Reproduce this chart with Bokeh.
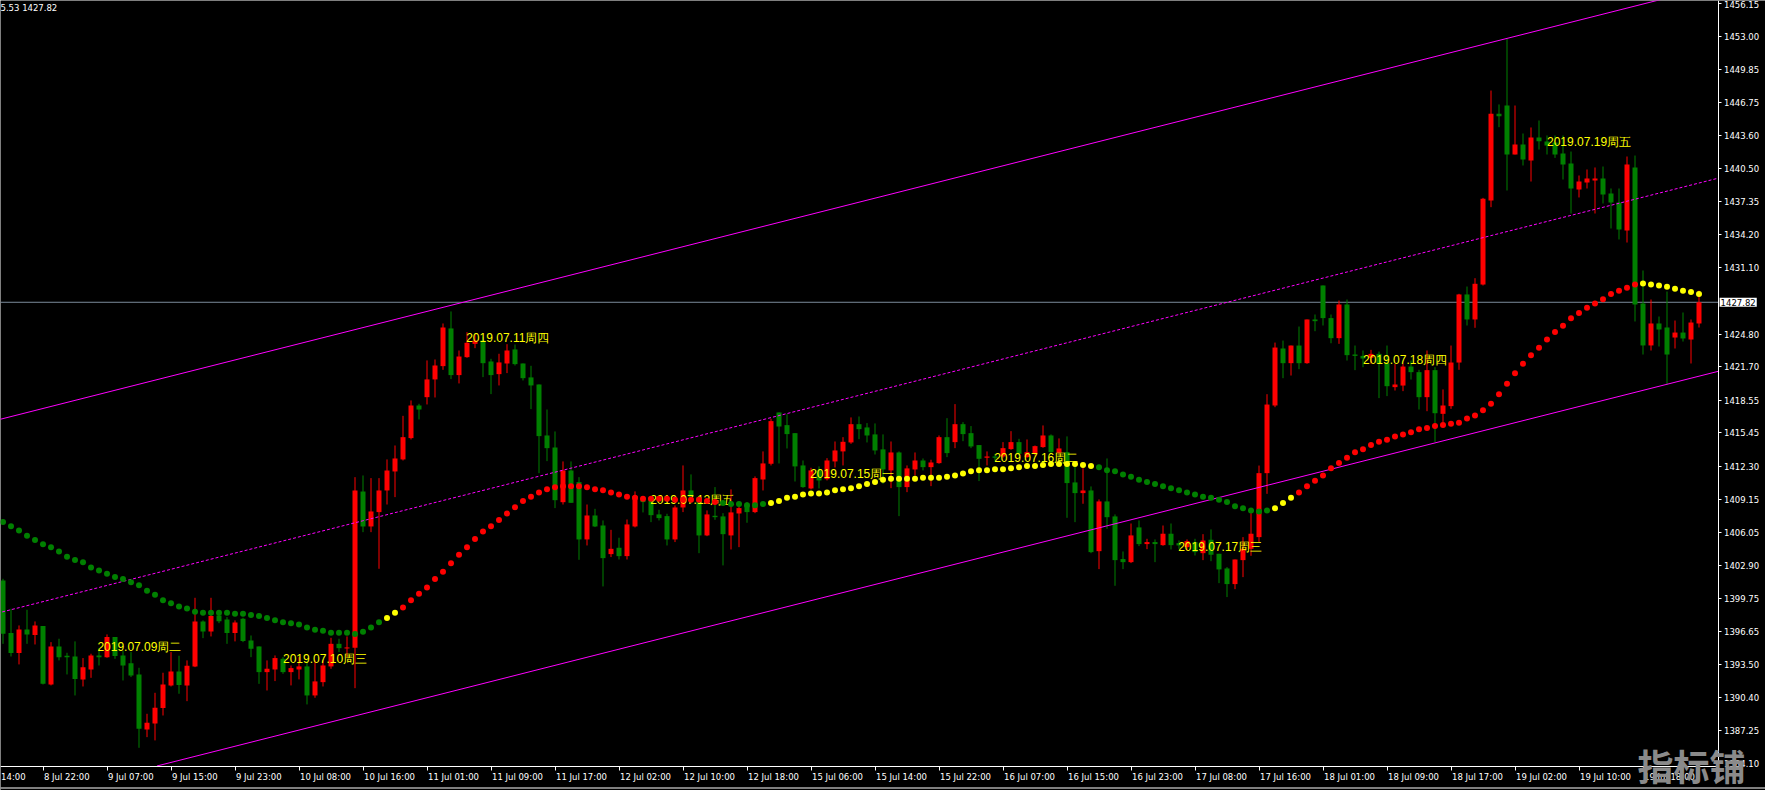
import numpy as np
from bokeh.plotting import figure
from bokeh.models import Range1d, FixedTicker, NumeralTickFormatter, Label, ColumnDataSource, Span
from bokeh.core.properties import value
from bokeh.embed import file_html
from bokeh.resources import INLINE

# ---------------- data (hourly XAUUSD bars) ----------------
opens = [1401.46, 1396.48, 1394.58, 1396.82, 1396.29, 1397.14, 1391.61, 1395.21, 1394.33, 1394.26,
         1392.09, 1393.03, 1394.36, 1394.20, 1396.10, 1394.36, 1393.63, 1392.56, 1387.35, 1387.92,
         1389.37, 1391.52, 1392.84, 1391.52, 1393.32, 1397.58, 1396.63, 1398.15, 1397.77, 1396.48,
         1397.83, 1395.78, 1395.21, 1392.78, 1393.03, 1394.04, 1392.78, 1393.03, 1393.32, 1390.57,
         1391.83, 1393.32, 1395.46, 1395.02, 1395.09, 1409.89, 1406.58, 1407.94, 1409.99, 1411.79,
         1412.93, 1414.95, 1418.04, 1418.83, 1420.51, 1421.77, 1425.34, 1420.92, 1422.62, 1423.88,
         1424.20, 1422.21, 1421.01, 1422.02, 1423.35, 1422.02, 1420.70, 1420.03, 1415.20, 1414.06,
         1408.88, 1411.88, 1410.78, 1405.35, 1407.62, 1406.67, 1403.96, 1404.56, 1403.77, 1406.58,
         1409.26, 1409.36, 1407.72, 1407.56, 1405.35, 1408.38, 1409.99, 1409.36, 1405.73, 1407.59,
         1407.53, 1405.73, 1407.81, 1408.57, 1407.94, 1411.03, 1412.52, 1417.38, 1416.18, 1415.42,
         1412.36, 1410.18, 1411.89, 1411.06, 1412.74, 1413.69, 1414.54, 1416.27, 1415.96, 1415.30,
         1413.88, 1411.89, 1413.59, 1410.31, 1411.98, 1412.83, 1412.20, 1412.58, 1415.04, 1414.57,
         1416.27, 1415.42, 1414.29, 1413.09, 1413.21, 1413.21, 1413.91, 1414.57, 1413.15, 1413.46,
         1414.10, 1415.20, 1413.56, 1413.62, 1410.75, 1409.74, 1409.99, 1404.24, 1408.95, 1407.53,
         1403.49, 1403.20, 1406.49, 1404.91, 1405.10, 1404.81, 1405.89, 1405.00, 1404.62, 1405.10,
         1404.05, 1405.32, 1403.99, 1402.60, 1401.12, 1403.39, 1404.46, 1405.57, 1411.63, 1418.04,
         1423.44, 1422.05, 1423.72, 1422.05, 1426.19, 1429.41, 1426.32, 1424.42, 1427.61, 1422.87,
         1422.74, 1422.55, 1422.93, 1422.05, 1419.78, 1419.93, 1421.73, 1421.20, 1418.83, 1421.39,
         1417.25, 1417.98, 1422.11, 1428.56, 1426.19, 1429.50, 1437.46, 1445.67, 1446.46, 1441.82,
         1442.77, 1441.25, 1443.43, 1443.05, 1442.96, 1441.91, 1440.97, 1438.50, 1439.17, 1439.36,
         1439.55, 1438.12, 1437.27, 1434.62, 1440.59, 1427.70, 1423.73, 1425.81, 1425.43, 1424.48,
         1424.95, 1424.29, 1425.81]
highs = [1401.62, 1398.78, 1397.20, 1398.69, 1397.58, 1397.14, 1395.62, 1395.94, 1394.61, 1395.69,
         1394.11, 1394.52, 1395.05, 1396.35, 1396.10, 1394.83, 1394.68, 1393.19, 1388.83, 1390.82,
         1392.72, 1394.68, 1394.33, 1393.89, 1399.82, 1397.68, 1399.82, 1398.46, 1397.99, 1397.68,
         1397.93, 1396.25, 1395.21, 1393.89, 1394.36, 1394.20, 1393.41, 1394.20, 1393.89, 1393.89,
         1393.89, 1396.03, 1395.94, 1396.16, 1411.25, 1411.41, 1411.16, 1411.16, 1412.93, 1414.25,
         1417.06, 1418.52, 1418.20, 1422.31, 1422.40, 1425.81, 1426.95, 1423.25, 1424.99, 1424.77,
         1424.52, 1422.46, 1422.94, 1423.85, 1423.82, 1422.02, 1421.80, 1420.03, 1417.66, 1415.58,
         1412.74, 1412.74, 1411.25, 1408.66, 1408.25, 1407.15, 1406.26, 1405.51, 1407.24, 1409.90,
         1409.26, 1409.36, 1408.16, 1407.78, 1408.57, 1412.36, 1411.51, 1409.36, 1408.10, 1410.31,
         1407.84, 1410.09, 1408.89, 1408.89, 1411.32, 1413.69, 1416.78, 1417.38, 1417.22, 1415.42,
         1412.83, 1412.14, 1412.27, 1413.05, 1414.63, 1415.04, 1416.91, 1417.00, 1416.37, 1416.34,
         1415.30, 1414.63, 1413.69, 1412.36, 1413.59, 1413.02, 1412.90, 1415.20, 1416.84, 1418.17,
         1416.46, 1416.09, 1414.29, 1413.69, 1413.46, 1414.57, 1415.61, 1414.88, 1414.82, 1414.25,
         1416.15, 1415.30, 1414.92, 1415.11, 1412.27, 1412.11, 1410.37, 1409.14, 1413.02, 1407.72,
         1404.21, 1406.86, 1407.15, 1405.41, 1405.35, 1406.67, 1406.86, 1405.25, 1405.35, 1405.41,
         1405.85, 1406.30, 1403.99, 1402.73, 1403.45, 1405.57, 1407.84, 1412.35, 1419.11, 1424.00,
         1424.19, 1423.72, 1425.52, 1426.19, 1426.66, 1429.41, 1426.66, 1427.99, 1428.08, 1423.72,
         1423.25, 1423.31, 1423.15, 1423.72, 1421.99, 1421.99, 1422.30, 1421.42, 1423.25, 1421.67,
         1419.56, 1423.72, 1428.62, 1429.31, 1430.10, 1437.71, 1447.88, 1446.56, 1452.78, 1446.46,
         1443.81, 1444.38, 1445.04, 1443.62, 1443.62, 1443.62, 1442.10, 1439.83, 1440.40, 1440.59,
         1440.68, 1438.60, 1438.60, 1441.63, 1441.72, 1430.83, 1428.08, 1426.47, 1428.84, 1426.09,
         1426.85, 1426.19, 1428.93]
lows = [1395.46, 1394.26, 1393.51, 1395.46, 1395.40, 1391.61, 1391.52, 1393.89, 1392.56, 1390.57,
        1391.42, 1392.24, 1393.41, 1394.14, 1394.04, 1391.99, 1392.31, 1385.61, 1386.62, 1386.31,
        1388.67, 1391.42, 1390.73, 1390.03, 1393.25, 1396.00, 1396.16, 1397.42, 1395.46, 1395.69,
        1395.62, 1394.20, 1391.67, 1391.04, 1391.93, 1392.62, 1391.52, 1392.09, 1389.72, 1390.35,
        1391.42, 1393.10, 1394.68, 1394.20, 1391.26, 1406.04, 1406.04, 1402.57, 1408.66, 1409.36,
        1412.83, 1414.82, 1416.72, 1418.14, 1418.80, 1421.42, 1420.54, 1420.13, 1422.56, 1423.47,
        1420.73, 1419.12, 1419.94, 1421.11, 1421.83, 1420.41, 1417.70, 1411.63, 1412.77, 1408.32,
        1408.66, 1408.82, 1403.42, 1404.78, 1406.52, 1400.90, 1403.68, 1403.45, 1403.45, 1406.49,
        1407.91, 1406.99, 1407.15, 1404.78, 1405.10, 1407.94, 1408.73, 1404.05, 1405.66, 1407.21,
        1402.89, 1404.40, 1404.62, 1406.93, 1407.84, 1409.99, 1412.36, 1412.55, 1413.97, 1410.84,
        1410.24, 1410.09, 1410.18, 1410.94, 1412.17, 1412.36, 1414.41, 1414.85, 1414.54, 1413.40,
        1410.62, 1410.21, 1407.56, 1409.83, 1411.41, 1411.89, 1410.40, 1412.52, 1413.15, 1414.00,
        1414.66, 1414.00, 1410.88, 1412.36, 1412.83, 1413.09, 1413.84, 1413.30, 1413.09, 1413.30,
        1414.03, 1413.56, 1413.46, 1407.40, 1406.99, 1408.73, 1404.05, 1402.54, 1406.36, 1400.96,
        1402.54, 1403.11, 1404.72, 1404.43, 1403.20, 1404.75, 1404.40, 1404.46, 1404.30, 1403.83,
        1403.39, 1403.29, 1401.21, 1399.89, 1400.64, 1401.78, 1403.80, 1405.10, 1409.67, 1417.88,
        1420.63, 1420.88, 1421.48, 1421.99, 1425.08, 1425.62, 1423.94, 1423.88, 1422.30, 1421.39,
        1421.67, 1421.99, 1418.74, 1418.93, 1419.46, 1419.40, 1420.50, 1417.66, 1417.50, 1414.57,
        1416.46, 1417.72, 1421.42, 1425.62, 1425.40, 1429.41, 1436.83, 1444.41, 1438.41, 1441.82,
        1440.78, 1439.26, 1442.29, 1441.82, 1441.50, 1439.45, 1436.23, 1437.75, 1438.60, 1436.23,
        1437.18, 1434.81, 1433.77, 1433.48, 1426.00, 1422.87, 1423.25, 1423.63, 1420.03, 1423.44,
        1424.10, 1422.02, 1425.43]
closes = [1396.41, 1394.58, 1396.82, 1396.35, 1397.20, 1391.67, 1395.21, 1394.20, 1394.20, 1392.12,
          1393.25, 1394.36, 1394.20, 1396.10, 1394.30, 1393.41, 1392.46, 1387.41, 1387.98, 1389.40,
          1391.61, 1392.84, 1391.55, 1393.38, 1397.58, 1396.63, 1398.09, 1397.61, 1396.48, 1397.49,
          1395.72, 1394.99, 1392.78, 1393.10, 1394.11, 1392.78, 1393.16, 1393.32, 1390.57, 1391.90,
          1393.41, 1395.46, 1395.05, 1395.12, 1409.99, 1406.58, 1408.00, 1409.99, 1411.88, 1413.02,
          1415.04, 1418.04, 1417.66, 1420.51, 1421.83, 1425.43, 1420.92, 1422.68, 1423.98, 1424.20,
          1422.05, 1420.92, 1422.12, 1423.25, 1421.96, 1420.63, 1419.94, 1415.14, 1414.00, 1409.07,
          1411.88, 1408.82, 1405.35, 1407.62, 1406.58, 1403.58, 1404.46, 1403.77, 1406.77, 1409.45,
          1408.89, 1407.65, 1407.37, 1405.35, 1408.38, 1409.99, 1409.36, 1405.73, 1407.72, 1407.46,
          1405.85, 1407.91, 1408.32, 1407.94, 1411.16, 1412.55, 1416.56, 1416.05, 1415.33, 1412.27,
          1410.31, 1411.89, 1410.94, 1412.83, 1413.78, 1414.60, 1416.27, 1415.80, 1415.20, 1413.78,
          1411.98, 1413.59, 1410.31, 1412.08, 1412.83, 1412.20, 1412.64, 1415.04, 1413.53, 1416.27,
          1415.33, 1414.16, 1412.99, 1413.21, 1413.09, 1414.00, 1414.57, 1413.46, 1413.62, 1414.19,
          1415.20, 1413.62, 1413.97, 1410.69, 1409.74, 1409.99, 1404.15, 1408.95, 1407.46, 1403.39,
          1403.20, 1405.73, 1404.91, 1405.10, 1404.91, 1405.89, 1404.81, 1404.78, 1405.19, 1404.15,
          1405.25, 1403.90, 1402.51, 1401.12, 1403.45, 1404.46, 1405.89, 1411.63, 1418.13, 1423.53,
          1422.05, 1423.72, 1422.05, 1426.19, 1426.03, 1426.32, 1424.42, 1427.61, 1422.81, 1422.74,
          1422.49, 1422.93, 1421.99, 1419.87, 1420.03, 1421.73, 1421.20, 1418.83, 1421.39, 1417.31,
          1418.04, 1422.11, 1428.56, 1426.19, 1429.57, 1437.62, 1445.67, 1445.45, 1441.82, 1442.77,
          1441.35, 1443.43, 1443.08, 1442.67, 1441.82, 1440.87, 1438.60, 1439.26, 1439.55, 1439.55,
          1438.03, 1437.27, 1434.71, 1440.87, 1427.61, 1423.73, 1425.81, 1425.24, 1422.87, 1424.95,
          1424.39, 1425.90, 1427.82]

# moving-average dots (one per bar) and its colour states
ma = [1407.0, 1406.6, 1406.2, 1405.7, 1405.3, 1404.9, 1404.6, 1404.2, 1403.7, 1403.4,
      1403.2, 1402.7, 1402.4, 1402.1, 1401.8, 1401.6, 1401.3, 1401.0, 1400.5, 1400.1,
      1399.6, 1399.3, 1399.0, 1398.8, 1398.5, 1398.4, 1398.4, 1398.4, 1398.4, 1398.3,
      1398.3, 1398.2, 1398.1, 1397.9, 1397.7, 1397.5, 1397.4, 1397.3, 1397.0, 1396.8,
      1396.7, 1396.5, 1396.5, 1396.5, 1396.4, 1396.6, 1397.0, 1397.5, 1397.9, 1398.4,
      1398.9, 1399.6, 1400.2, 1400.8, 1401.6, 1402.3, 1403.1, 1403.9, 1404.6, 1405.4,
      1406.1, 1406.6, 1407.2, 1407.8, 1408.4, 1409.0, 1409.4, 1409.8, 1410.1, 1410.3,
      1410.4, 1410.4, 1410.4, 1410.3, 1410.1, 1410.0, 1409.8, 1409.6, 1409.4, 1409.3,
      1409.2, 1409.2, 1409.2, 1409.2, 1409.1, 1409.1, 1409.1, 1409.1, 1409.0, 1408.9,
      1408.8, 1408.7, 1408.7, 1408.6, 1408.6, 1408.7, 1408.8, 1409.0, 1409.3, 1409.4,
      1409.6, 1409.7, 1409.7, 1409.8, 1410.0, 1410.1, 1410.2, 1410.4, 1410.6, 1410.8,
      1411.0, 1411.1, 1411.1, 1411.1, 1411.1, 1411.2, 1411.2, 1411.2, 1411.3, 1411.4,
      1411.6, 1411.8, 1411.9, 1411.9, 1412.0, 1412.0, 1412.1, 1412.2, 1412.3, 1412.3,
      1412.4, 1412.5, 1412.5, 1412.5, 1412.5, 1412.4, 1412.3, 1412.2, 1411.9, 1411.8,
      1411.5, 1411.3, 1411.0, 1410.8, 1410.6, 1410.4, 1410.2, 1410.0, 1409.8, 1409.6,
      1409.4, 1409.3, 1409.1, 1408.9, 1408.5, 1408.3, 1408.1, 1408.0, 1408.1, 1408.3,
      1408.8, 1409.3, 1409.8, 1410.4, 1410.9, 1411.4, 1412.1, 1412.6, 1413.1, 1413.6,
      1413.9, 1414.3, 1414.6, 1414.8, 1415.1, 1415.3, 1415.5, 1415.8, 1415.9, 1416.1,
      1416.2, 1416.3, 1416.4, 1416.8, 1417.1, 1417.6, 1418.2, 1419.1, 1420.1, 1421.1,
      1422.0, 1422.8, 1423.5, 1424.3, 1425.0, 1425.6, 1426.3, 1426.8, 1427.3, 1427.7,
      1428.1, 1428.6, 1428.9, 1429.2, 1429.5, 1429.6, 1429.5, 1429.4, 1429.3, 1429.1,
      1428.9, 1428.8, 1428.6]
ma_state_runs = [(0, 47, "down"), (48, 49, "flat"), (50, 89, "up"), (90, 95, "down"),
                 (96, 136, "flat"), (137, 158, "down"), (159, 161, "flat"),
                 (162, 204, "up"), (205, 212, "flat")]

# time axis: bar index of each tick and its label (first one is cut by the left edge)
x_tick_bars = [-3, 5, 13, 21, 29, 37, 45, 53, 61, 69, 77, 85, 93, 101, 109, 117, 125,
               133, 141, 149, 157, 165, 173, 181, 189, 197, 205]
x_tick_labels = ["8 Jul 14:00", "8 Jul 22:00", "9 Jul 07:00", "9 Jul 15:00", "9 Jul 23:00",
                 "10 Jul 08:00", "10 Jul 16:00", "11 Jul 01:00", "11 Jul 09:00", "11 Jul 17:00",
                 "12 Jul 02:00", "12 Jul 10:00", "12 Jul 18:00", "15 Jul 06:00", "15 Jul 14:00",
                 "15 Jul 22:00", "16 Jul 07:00", "16 Jul 15:00", "16 Jul 23:00", "17 Jul 08:00",
                 "17 Jul 16:00", "18 Jul 01:00", "18 Jul 09:00", "18 Jul 17:00", "19 Jul 02:00",
                 "19 Jul 10:00", "19 Jul 18:00"]
price_ticks = [1456.15, 1453.00, 1449.85, 1446.75, 1443.60, 1440.50, 1437.35, 1434.20, 1431.10,
               1424.80, 1421.70, 1418.55, 1415.45, 1412.30, 1409.15, 1406.05, 1402.90,
               1399.75, 1396.65, 1393.50, 1390.40, 1387.25, 1384.10]

# day marker texts (anchor bar, price)
day_labels = ["2019.07.09周二", "2019.07.10周三", "2019.07.11周四", "2019.07.12周五",
              "2019.07.15周一", "2019.07.16周二", "2019.07.17周三", "2019.07.18周四", "2019.07.19周五"]
day_label_bars = [11.8, 35.0, 57.9, 80.9, 100.9, 123.9, 146.9, 170.0, 193.0]
day_label_prices = [1395.14, 1394.00, 1424.42, 1409.07, 1411.53, 1413.05, 1404.61, 1422.33, 1442.96]

# price channel (middle line at two bars, half width)
channel_bars = [0, 214]
channel_mid = [1398.5, 1439.5]
channel_half = 18.3

last_price = 1427.82
header_text = "5.53 1427.82"
watermark_text = "指标铺"

# ---------------- layout constants ----------------
W, H = 1765, 790
BAR_PX = 8.0
X_START = -0.3125                     # bar value at the left canvas edge
X_END = X_START + W / BAR_PX
Y_TOP = 1456.41
PX_PER_PRICE = 10.555
Y_BOT = Y_TOP - H / PX_PER_PRICE
AXIS_BAR = 214.375                    # where the price scale starts
AXIS_PRICE = Y_TOP - 765.5 / PX_PER_PRICE  # where the time scale sits

p = figure(width=W, height=H, output_backend="svg", toolbar_location=None, title=None,
           x_range=Range1d(X_START, X_END), y_range=Range1d(Y_BOT, Y_TOP),
           y_axis_location="right", background_fill_color="black", border_fill_color="black",
           min_border_left=0, min_border_top=0, min_border_right=0, min_border_bottom=0)
p.outline_line_color = None
p.xgrid.visible = False
p.ygrid.visible = False

AX_FONT = "DejaVu Sans"
AX_SIZE = 8.5
yax = p.yaxis[0]
yax.fixed_location = AXIS_BAR
yax.bounds = (AXIS_PRICE, Y_TOP)
yax.ticker = FixedTicker(ticks=price_ticks)
yax.formatter = NumeralTickFormatter(format="0.00")
yax.axis_line_color = "white"
yax.major_tick_line_color = "white"
yax.major_tick_out = 3
yax.major_tick_in = 0
yax.minor_tick_line_color = None
yax.major_label_text_color = "white"
yax.major_label_text_font = AX_FONT
yax.major_label_text_font_size = f"{AX_SIZE}px"
yax.major_label_standoff = 3

# MT4 draws each time label starting just right of its tick: centre the text there.
cw = {" ": 0.318, ":": 0.337, "J": 0.295, "u": 0.634, "l": 0.278}
def text_w(s, size=AX_SIZE):
    return size * sum(cw.get(ch, 0.636) for ch in s)
shown_labels, label_centres = [], []
left_px = X_START * BAR_PX
for b, t in zip(x_tick_bars, x_tick_labels):
    start = b + 1.0 / BAR_PX
    if start < X_START:
        # only the part of the label right of the canvas edge is visible
        words = t.split(" ")
        t = words[-1]
        start = start + (text_w(" ".join(words)) - text_w(t)) / BAR_PX
    shown_labels.append(t)
    label_centres.append(round(start + text_w(t) / 2.0 / BAR_PX, 3))

xax = p.xaxis[0]
xax.fixed_location = AXIS_PRICE
xax.bounds = (X_START, AXIS_BAR)
xax.ticker = FixedTicker(ticks=label_centres, minor_ticks=[b for b in x_tick_bars if b > X_START])
xax.major_label_overrides = {c: t for c, t in zip(label_centres, shown_labels)}
xax.axis_line_color = "white"
xax.major_tick_line_color = None
xax.major_tick_out = 0
xax.major_tick_in = 0
xax.minor_tick_line_color = "white"
xax.minor_tick_out = 4
xax.minor_tick_in = 0
xax.major_label_text_color = "white"
xax.major_label_text_font = AX_FONT
xax.major_label_text_font_size = f"{AX_SIZE}px"
xax.major_label_standoff = 2

# window frame line under the time scale
p.add_layout(Span(location=Y_TOP - 787.5 / PX_PER_PRICE, dimension="width",
                  line_color="white", line_width=1))

# current price line (stops at the price scale)
p.line([X_START - 1, AXIS_BAR], [last_price, last_price], line_color="#7b8a9a", line_width=1)

# candles
o = np.array(opens); h = np.array(highs); l = np.array(lows); c = np.array(closes)
idx = np.arange(len(o))
bull = c >= o
ccol = np.where(bull, "#FF0000", "#008000")
top = np.maximum(o, c)
bot = np.minimum(o, c)
pad = np.maximum(0.0, 0.1 - (top - bot)) / 2.0
src = ColumnDataSource(dict(x=idx, high=h, low=l, top=top + pad, bottom=bot - pad, color=ccol))
p.segment(x0="x", y0="low", x1="x", y1="high", line_color="color", line_width=1, source=src)
p.vbar(x="x", width=0.625, top="top", bottom="bottom", fill_color="color", line_color=None, source=src)

# channel lines (kept inside the chart area, i.e. above the time scale, left of the price scale)
slope = (channel_mid[1] - channel_mid[0]) / (channel_bars[1] - channel_bars[0])
def mid_at(b):
    return channel_mid[0] + slope * (b - channel_bars[0])
for off, dash in [(channel_half, "solid"), (0.0, "3 2"), (-channel_half, "solid")]:
    b0 = X_START - 1
    if mid_at(b0) + off < AXIS_PRICE:
        b0 = channel_bars[0] + (AXIS_PRICE - off - channel_mid[0]) / slope
    xs = [b0, AXIS_BAR]
    p.line(xs, [mid_at(b) + off for b in xs], line_color="#FF00FF", line_width=1, line_dash=dash)

# day texts
p.text(x=day_label_bars, y=day_label_prices, text=day_labels, text_color="#FFFF00",
       text_font=value("Liberation Sans"), text_font_size="12px",
       text_align="left", text_baseline="middle")

# MA dots
state_col = {"down": "#008000", "up": "#FF0000", "flat": "#FFFF00"}
ma_col = [None] * len(ma)
for a, b, s in ma_state_runs:
    for i in range(a, b + 1):
        ma_col[i] = state_col[s]
p.scatter(x=list(idx), y=ma, size=6, fill_color=ma_col, line_color=None, marker="circle")

# price box on the scale
p.add_layout(Label(x=AXIS_BAR + 0.2, y=last_price, text=f"{last_price:.2f}",
                   text_color="black", text_font=AX_FONT, text_font_size=f"{AX_SIZE}px",
                   text_align="left", text_baseline="middle",
                   background_fill_color="white", padding=1))
# header text
p.add_layout(Label(x=X_START, y=Y_TOP - 2 / PX_PER_PRICE, text=header_text, text_color="white",
                   text_font=AX_FONT, text_font_size=f"{AX_SIZE}px",
                   text_align="left", text_baseline="top"))
# watermark
p.add_layout(Label(x=204.3, y=Y_TOP - 764 / PX_PER_PRICE, text=watermark_text, text_color="#8a8a8a",
                   text_font="Noto Sans CJK SC", text_font_style="bold", text_font_size="36px",
                   text_align="left", text_baseline="middle"))

open("out.html", "w").write(file_html(p, INLINE))
